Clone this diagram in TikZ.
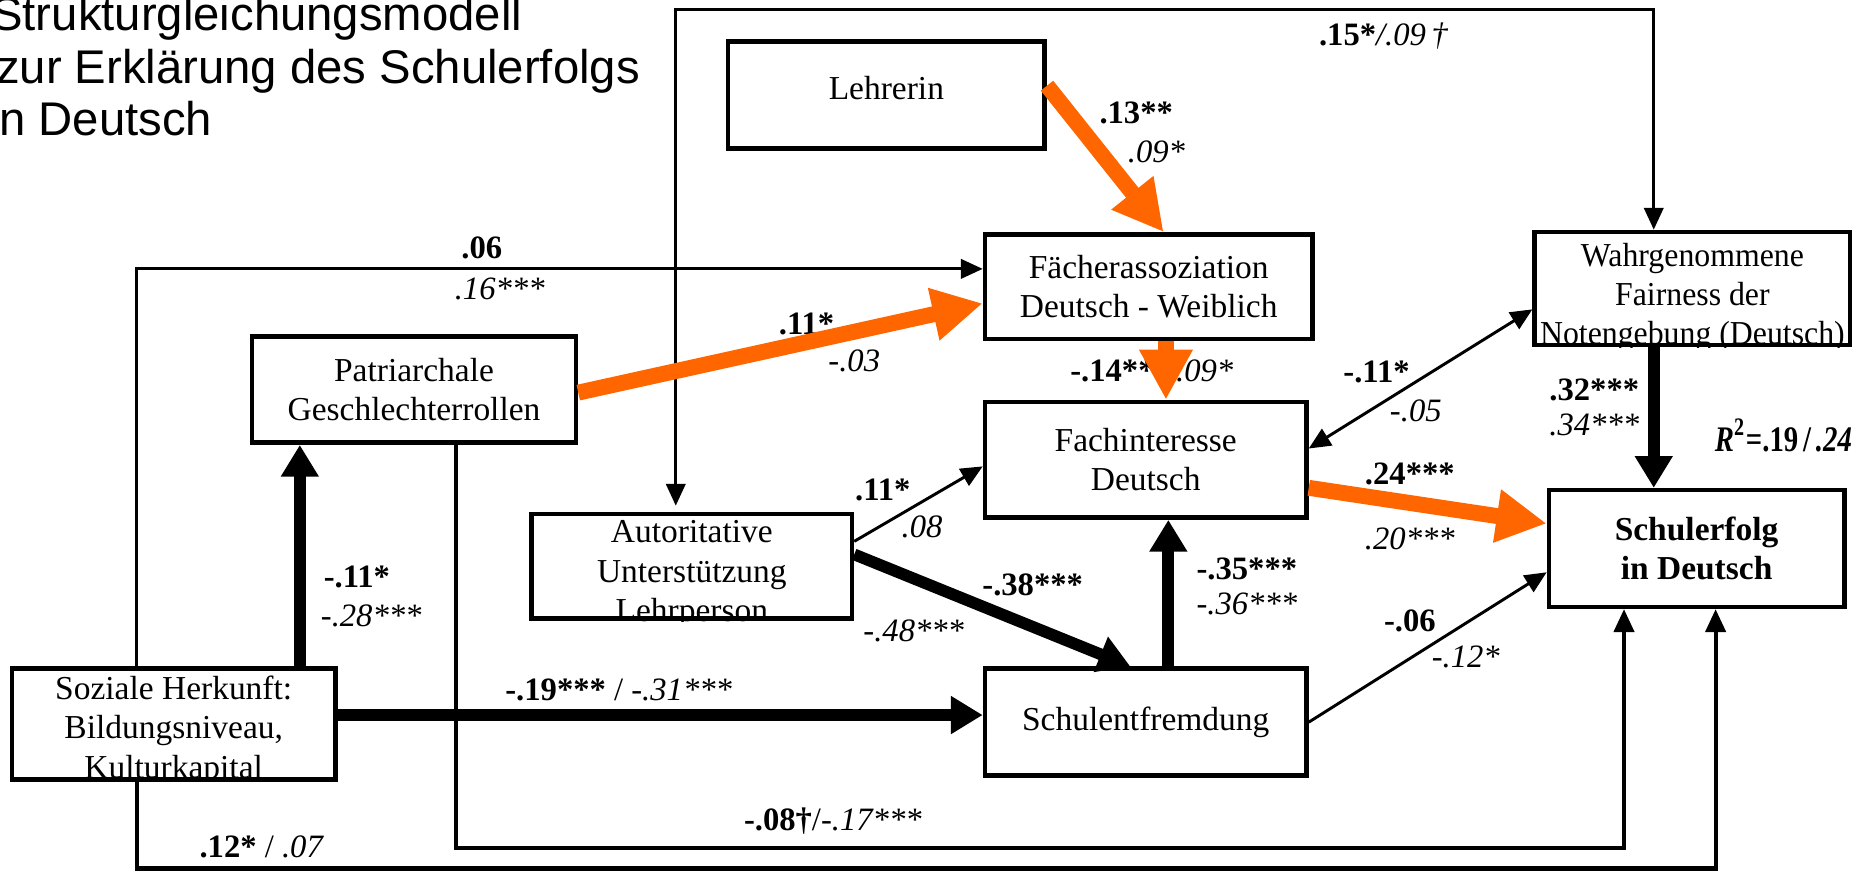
\documentclass[tikz,border=0pt]{standalone}
\usepackage{fontspec}
\usepackage{graphicx}
\newfontfamily\tnr{Liberation Serif}
\newfontfamily\tnrn{Liberation Serif}[FakeStretch=0.95]
\newfontfamily\arialf{Liberation Sans}
\usetikzlibrary{arrows.meta,calc}
\definecolor{orng}{RGB}{255,102,0}
\begin{document}
\begin{tikzpicture}[x=0.01cm,y=-0.01cm,
  box/.style={draw, line width=1.1pt, inner sep=0pt, align=center, font=\tnr\fontsize{8}{9.4}\selectfont},
  btxt/.style={inner sep=0pt, align=center, font=\tnr\fontsize{8}{9.4}\selectfont},
  lb/.style={inner sep=0pt, font=\tnr\fontsize{7.8}{9.4}\selectfont\bfseries},
  li/.style={inner sep=0pt, font=\tnr\fontsize{7.8}{9.4}\selectfont\itshape},
  ttl/.style={inner sep=0pt, anchor=base west, font=\arialf\fontsize{11.3}{13}\selectfont},
  thinarr/.style={line width=0.7pt, -{Triangle[length=5.2pt,width=4.6pt]}},
  dblarr/.style={line width=0.7pt, {Triangle[length=5.2pt,width=4.6pt]}-{Triangle[length=5.2pt,width=4.6pt]}},
  medarr/.style={line width=1pt, -{Triangle[length=5.5pt,width=4.8pt]}},
  thickarr/.style={line width=2.8pt, -{Triangle[length=7.6pt,width=8.6pt]}},
  orarr/.style={orng, line width=3.8pt, -{Triangle[length=12pt,width=12pt]}}
]
\useasboundingbox (0,0) rectangle (1560,733);
\clip (0,0) rectangle (1560,733);

% title
\node[ttl] (t1) at (-8,26) {Strukturgleichungsmodell};
\node[ttl] (t2) at (-4,70) {zur Erklärung des Schulerfolgs};
\node[ttl] (t3) at (-10,114) {in Deutsch};

% boxes
\node[box, minimum width=2.66cm, minimum height=0.90cm] (lehr) at (745,80) {};
\node[btxt] (lehrt) at (745,74) {Lehrerin};
\node[box, minimum width=2.75cm, minimum height=0.88cm] (faech) at (965.5,241) {Fächerassoziation\\Deutsch - Weiblich};
\node[box, minimum width=2.65cm, minimum height=0.95cm] (wahr) at (1422.5,242.5) {};
\node[box, minimum width=2.72cm, minimum height=0.89cm] (patr) at (348,327.5) {Patriarchale\\Geschlechterrollen};
\node[box, minimum width=2.70cm, minimum height=0.97cm] (fach) at (963,386.5) {Fachinteresse\\Deutsch};
\node[box, minimum width=2.69cm, minimum height=0.88cm] (auto) at (581.5,476) {};
\node[box, minimum width=2.48cm, minimum height=0.98cm, font=\tnr\fontsize{8}{9.4}\selectfont\bfseries] (erfolg) at (1426,461) {Schulerfolg\\in Deutsch};
\node[box, minimum width=2.72cm, minimum height=0.93cm] (sozial) at (146,608.5) {};
\node[box, minimum width=2.70cm, minimum height=0.90cm] (fremd) at (963,607) {Schulentfremdung};

% clipped box texts
\begin{scope}
\clip (wahr.south west) rectangle (wahr.north east);
\node[btxt, font=\tnrn\fontsize{8}{9.4}\selectfont] (wahrt) at (1422.5,250) {Wahrgenommene\\Fairness der\\Notengebung (Deutsch)};
\end{scope}
\begin{scope}
\clip (auto.south west) rectangle (auto.north east);
\node[btxt] (autot) at (581.5,483) {Autoritative\\Unterstützung\\Lehrperson};
\end{scope}
\begin{scope}
\clip (sozial.south west) rectangle (sozial.north east);
\node[btxt] (sozialt) at (146,614) {Soziale Herkunft:\\Bildungsniveau,\\Kulturkapital};
\end{scope}

% labels
\node[lb] (a1) at (1163,30) {.15*\textmd{\itshape /.09\,†}};
\node[lb] (a2) at (955,95) {.13**};
\node[li] (a3) at (972,128) {.09*};
\node[lb] (a4) at (405,208) {.06};
\node[li] (a5) at (420,243) {.16***};
\node[lb] (a6) at (678,272) {.11*};
\node[li] (a7) at (718,303) {-.03};
\node[lb] (a8) at (935,312) {-.14**};
\node[li] (a9) at (1008,312) {-.09*};
\node[lb] (a10) at (1157,313) {-.11*};
\node[li] (a11) at (1190,345) {-.05};
\node[lb] (a12) at (1340,328) {.32***};
\node[li] (a13) at (1340,357) {.34***};
\node[lb, font=\tnr\fontsize{8.6}{9.4}\selectfont\bfseries] (a14) at (1499,366) {\scalebox{0.8}[1]{\textit{R}\textsuperscript{2}=.19\,/\,\textit{.24}}};
\node[lb] (a15) at (1185,398) {.24***};
\node[li] (a16) at (1185,453) {.20***};
\node[lb] (a17) at (742,412) {.11*};
\node[li] (a18) at (775,443) {.08};
\node[lb] (a19) at (868,492) {-.38***};
\node[li] (a20) at (768,530) {-.48***};
\node[lb] (a21) at (1048,478) {-.35***};
\node[li] (a22) at (1048,508) {-.36***};
\node[lb] (a23) at (1185,522) {-.06};
\node[li] (a24) at (1232,552) {-.12*};
\node[lb] (a25) at (300,485) {-.11*};
\node[li] (a26) at (312,518) {-.28***};
\node[lb] (a27) at (520,580) {-.19***\textmd{ / \itshape -.31***}};
\node[lb] (a28) at (700,690) {-.08†\textmd{/\itshape -.17***}};
\node[lb] (a29) at (220,712) {.12*\textmd{ / \itshape .07}};

% route coordinates
\coordinate (tl) at (568,8);
\coordinate (tr) at (1390,8);
\coordinate (pb) at (383,713);
\coordinate (sb) at (115,730);

% connectors
\draw[dblarr] ($(auto.north)+(-13.5,-5)$) -- (tl) -- (tr) -- (wahr.north -| tr);
\draw[thinarr] ($(sozial.north)+(-31,0)$) |- ($(faech.west)+(0,-15)$);
\draw[medarr] ($(patr.south)+(35,0)$) -- (pb) -| ($(erfolg.south)+(-61,0)$);
\draw[medarr] ($(sozial.south)+(-31,0)$) -- (sb) -| ($(erfolg.south)+(16,0)$);
\draw[thickarr] ($(sozial.north)+(106,0)$) -- ($(patr.south)+(-96,0)$);
\draw[thickarr] ($(sozial.east)+(0,-7.5)$) -- ($(fremd.west)+(0,-6)$);
\draw[thinarr] ($(auto.east)+(0,-21)$) -- ($(fach.west)+(0,5.5)$);
\draw[thickarr] ($(auto.east)+(0,-10)$) -- ($(fremd.north)+(-13,0)$);
\draw[thickarr] ($(fremd.north)+(19,0)$) -- ($(fach.south)+(19,0)$);
\draw[thinarr] (fremd.east) -- ($(erfolg.west)+(0,20)$);
\draw[dblarr] ($(fach.east)+(0,-9.5)$) -- ($(wahr.west)+(0,17.5)$);
\draw[thickarr] ($(wahr.south)+(-32.5,0)$) -- ($(erfolg.north)+(-36,0)$);
\draw[orarr] ($(fach.east)+(0,23.5)$) -- ($(erfolg.west)+(0,-21)$);
\draw[orarr] ($(lehr.east)+(0,-8)$) -- ($(faech.north)+(12.5,0)$);
\draw[orarr] ($(faech.south)+(14.5,0)$) -- ($(fach.north)+(17,0)$);
\draw[orarr] ($(patr.east)+(0,2.5)$) -- ($(faech.west)+(0,14)$);
\end{tikzpicture}
\end{document}
